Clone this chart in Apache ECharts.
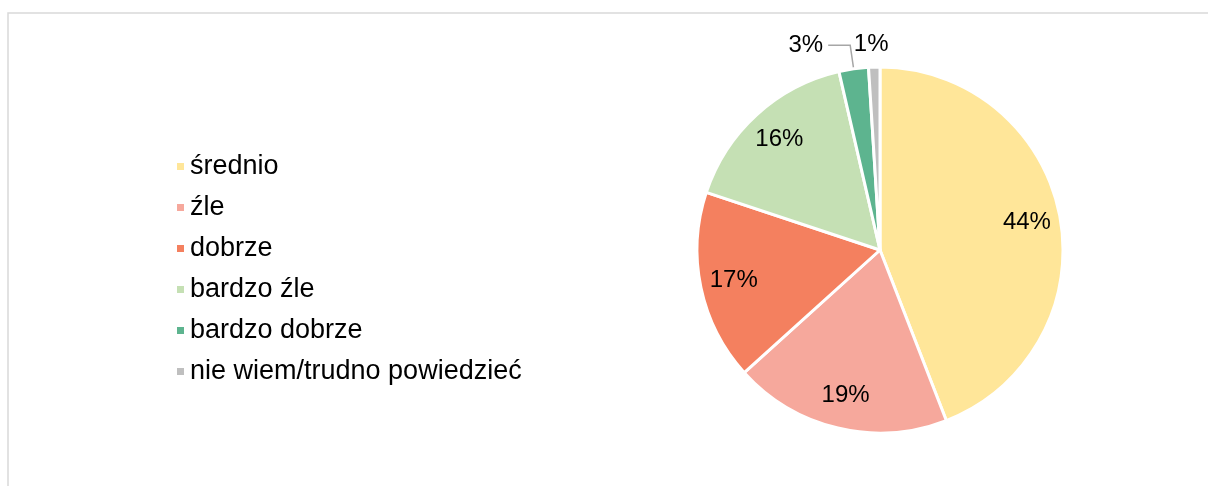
<!DOCTYPE html>
<html>
<head>
<meta charset="utf-8">
<script src="https://cdn.jsdelivr.net/npm/echarts@6/dist/echarts.min.js"></script>
<style>
  html, body { margin: 0; padding: 0; background: #fff; }
  #chart { width: 1208px; height: 486px; }
</style>
</head>
<body>
<div id="chart"></div>
<script>
// odpowiedzi (kolejność zgodnie z ruchem wskazówek zegara)
const categories = ['średnio', 'źle', 'dobrze', 'bardzo źle', 'bardzo dobrze', 'nie wiem/trudno powiedzieć'];
const values = [44.1, 19.2, 16.8, 16.3, 2.6, 1.0];

const font = '"Liberation Sans", Arial, sans-serif';
const pctLabel = p => Math.round(p.percent) + '%';
const isSmall = v => v < 5;

const chart = echarts.init(document.getElementById('chart'));

const option = {
  backgroundColor: '#fff',
  animation: false,
  color: ['#FFE699', '#F6A89C', '#F4805F', '#C5E0B4', '#5DB48F', '#BFBFBF'],
  graphic: [
    {
      type: 'rect',
      shape: { x: 8, y: 13, width: 1300, height: 600 },
      style: { fill: 'none', stroke: '#D9D9D9', lineWidth: 1.5 },
      silent: true
    }
  ],
  legend: {
    orient: 'vertical',
    left: 170,
    top: 148,
    icon: 'rect',
    itemWidth: 9,
    itemHeight: 9,
    itemGap: 14,
    data: categories,
    textStyle: { fontSize: 27, color: '#000', fontFamily: font }
  },
  series: [
    {
      // wykres kołowy + etykiety zewnętrzne małych wycinków
      type: 'pie',
      center: [880, 250],
      radius: [0, 183],
      startAngle: 90,
      clockwise: true,
      avoidLabelOverlap: false,
      itemStyle: { borderColor: '#fff', borderWidth: 3 },
      emphasis: { disabled: true },
      label: {
        show: true,
        position: 'outside',
        fontSize: 24,
        color: '#000',
        fontFamily: font,
        formatter: pctLabel
      },
      labelLine: {
        show: true,
        length: 24,
        length2: 22,
        lineStyle: { color: '#A6A6A6', width: 1.5 }
      },
      labelLayout: function (p) {
        if (p.dataIndex === 5) return { dx: 42, dy: 1 };
      },
      data: categories.map((name, i) => ({
        name: name,
        value: values[i],
        label: { show: isSmall(values[i]) },
        labelLine: { show: isSmall(values[i]) && i !== 5 }
      }))
    },
    {
      // przezroczysty pierścień tylko dla etykiet wewnętrznych
      type: 'pie',
      center: [880, 250],
      radius: [110, 183],
      startAngle: 90,
      clockwise: true,
      silent: true,
      itemStyle: { color: 'transparent', borderWidth: 0 },
      emphasis: { disabled: true },
      label: {
        show: true,
        position: 'inside',
        fontSize: 24,
        color: '#000',
        fontFamily: font,
        formatter: pctLabel
      },
      labelLine: { show: false },
      data: categories.map((name, i) => ({
        name: name,
        value: values[i],
        label: { show: !isSmall(values[i]) }
      }))
    }
  ]
};

chart.setOption(option);
</script>
</body>
</html>
